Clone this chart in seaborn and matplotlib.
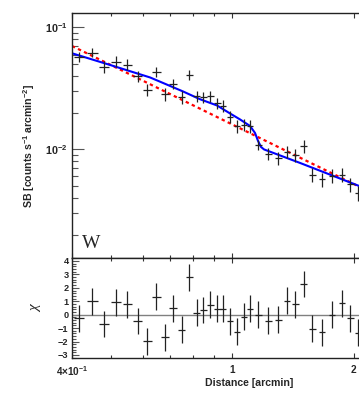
import numpy as np
import pandas as pd
import matplotlib
matplotlib.use('Agg')
import matplotlib.pyplot as plt
import seaborn as sns
from matplotlib.ticker import FixedLocator, FixedFormatter, MultipleLocator, NullFormatter

# Perfil de brillo superficial (sector W)
dist = [0.4165, 0.4494, 0.4813, 0.5146, 0.5489, 0.5834, 0.6152, 0.6477, 0.6820, 0.7139,
        0.7489, 0.7820, 0.8161, 0.8472, 0.8819, 0.9180, 0.9499, 0.9886, 1.029, 1.069,
        1.106, 1.161, 1.228, 1.300, 1.368, 1.434, 1.504, 1.579, 1.670, 1.769,
        1.872, 1.965, 2.051]
dist_err = [0.013, 0.014, 0.014, 0.015, 0.015, 0.015, 0.015, 0.016, 0.016, 0.016,
            0.016, 0.016, 0.016, 0.016, 0.017, 0.017, 0.017, 0.018, 0.018, 0.019,
            0.020, 0.022, 0.024, 0.025, 0.026, 0.027, 0.029, 0.030, 0.032, 0.034,
            0.035, 0.037, 0.039]
sb = [0.0576, 0.0621, 0.0477, 0.0526, 0.0497, 0.0400, 0.0309, 0.0434, 0.0285, 0.0346,
      0.0267, 0.0410, 0.0274, 0.0269, 0.0272, 0.0240, 0.0227, 0.0186, 0.0156, 0.0160,
      0.0156, 0.01089, 0.00924, 0.00847, 0.00959, 0.00901, 0.01058, 0.00618, 0.00568, 0.00607,
      0.00618, 0.00517, 0.00436]
sb_rel_err = [0.10, 0.085, 0.11, 0.10, 0.10, 0.10, 0.12, 0.10, 0.12, 0.10,
              0.12, 0.10, 0.10, 0.10, 0.10, 0.11, 0.11, 0.11, 0.12, 0.12,
              0.12, 0.10, 0.12, 0.12, 0.12, 0.12, 0.12, 0.13, 0.13, 0.13,
              0.13, 0.13, 0.14]
chi = [-0.28, 1.0, -0.7, 0.93, 0.78, -0.47, -1.97, 1.33, -1.7, 0.48,
       -1.13, 2.8, 0.13, 0.35, 0.73, 0.43, 0.43, -0.48, -1.28, -0.15,
       0.43, 0.0, -0.45, -0.38, 1.05, 0.78, 2.28, -1.05, -1.3, 0.0,
       0.85, -0.28, -1.35]

# Modelo con salto (azul) y modelo simple (rojo)
jump_x = [0.4, 0.4972, 0.6249, 0.7545, 0.8317, 0.9163, 0.9869, 1.045, 1.1063, 1.1385,
          1.1584, 1.1783, 1.1988, 1.4723, 2.063]
jump_y = [0.06144, 0.04928, 0.03893, 0.02988, 0.02579, 0.02294, 0.01973, 0.01762, 0.01558, 0.01365,
          0.01174, 0.01048, 0.0100, 0.00775, 0.00502]
plain_x = [0.4, 2.063]
plain_y = [0.0705, 0.00496]

sns.set_theme(style='ticks')
plt.rcParams['font.family'] = ['Liberation Sans', 'DejaVu Sans']
plt.rcParams['mathtext.fontset'] = 'custom'
plt.rcParams['mathtext.rm'] = 'Liberation Sans:bold'
plt.rcParams['mathtext.bf'] = 'Liberation Sans:bold'
plt.rcParams['mathtext.default'] = 'rm'

fig = plt.figure(figsize=(3.59, 3.97), dpi=100)
ax1 = fig.add_axes([0.2006, 0.3494, 0.7994, 0.6179])
ax2 = fig.add_axes([0.2006, 0.0975, 0.7994, 0.2519])

for ax in (ax1, ax2):
    ax.set_xscale('log')
    ax.set_xlim(0.4, 2.063)
    ax.spines['right'].set_visible(False)
    for s in ('left', 'top', 'bottom'):
        ax.spines[s].set_linewidth(1.0)
        ax.spines[s].set_color('#222222')
    ax.xaxis.set_major_locator(FixedLocator([0.4, 1, 2]))
    ax.xaxis.set_minor_locator(FixedLocator([0.5, 0.6, 0.7, 0.8, 0.9]))
    ax.xaxis.set_minor_formatter(NullFormatter())
    ax.tick_params(axis='x', which='both', direction='in', top=True, bottom=True, width=0.8, color='#333333')
    ax.tick_params(axis='x', which='major', length=3.6)
    ax.tick_params(axis='x', which='minor', length=2.2)
    ax.tick_params(axis='y', which='both', direction='in', left=True, right=False, width=0.8, color='#555555')

# panel superior
ax1.set_yscale('log')
ax1.set_ylim(0.00128, 0.1315)
sns.lineplot(x=plain_x, y=plain_y, ax=ax1, color='red', lw=1.6, linestyle=(0, (1.5, 1.5)), sort=False, estimator=None)
sns.lineplot(x=jump_x, y=jump_y, ax=ax1, color='blue', lw=1.5, sort=False, estimator=None)
sb_arr = np.array(sb)
ax1.errorbar(dist, sb, xerr=dist_err, yerr=sb_arr * np.array(sb_rel_err), fmt='none',
             ecolor='#222222', elinewidth=0.9)
ax1.yaxis.set_major_locator(FixedLocator([0.01, 0.1]))
ax1.yaxis.set_major_formatter(FixedFormatter(['10$^{-2}$', '10$^{-1}$']))
ax1.yaxis.set_minor_locator(FixedLocator([0.002, 0.003, 0.004, 0.005, 0.006, 0.007, 0.008, 0.009,
                                          0.02, 0.03, 0.04, 0.05, 0.06, 0.07, 0.08, 0.09]))
ax1.yaxis.set_minor_formatter(NullFormatter())
ax1.tick_params(axis='y', which='major', length=8.6, labelsize=7.8, pad=3.4)
ax1.tick_params(axis='y', which='minor', length=4.3)
ax1.tick_params(axis='x', labelbottom=False)
for t in ax1.get_yticklabels():
    t.set_fontweight('bold')
ax1.set_ylabel('SB [counts s$^{-1}$ arcmin$^{-2}$]', fontsize=7.6, fontweight='bold')
ax1.yaxis.set_label_coords(-0.122, 0.458)
ax1.set_xlabel('')
fig.text(82 / 359, 1 - 248 / 397, 'W', family='Liberation Serif', fontsize=14, va='baseline')

# panel de residuos
ax2.set_ylim(-3.25, 4.2)
ax2.axhline(0, color='gray', lw=1.0)
ax2.errorbar(dist, chi, xerr=dist_err, yerr=np.ones(len(chi)), fmt='none',
             ecolor='#222222', elinewidth=0.9)
ax2.yaxis.set_major_locator(MultipleLocator(1))
ax2.yaxis.set_minor_locator(MultipleLocator(0.2))
ax2.tick_params(axis='y', which='major', length=5, labelsize=6.6, pad=2.5)
ax2.tick_params(axis='y', which='minor', length=2.9)
ax2.xaxis.set_major_formatter(FixedFormatter(['4×10$^{-1}$', '1', '2']))
ax2.tick_params(axis='x', which='major', labelsize=7.2, pad=4.5)
for t in ax2.get_yticklabels() + ax2.get_xticklabels():
    t.set_fontweight('bold')
ax2.set_ylabel('χ', family='Liberation Serif', fontstyle='italic', fontsize=11)
ax2.yaxis.set_label_coords(-0.104, 0.5)
ax2.set_xlabel('Distance [arcmin]', fontsize=7.6, fontweight='bold')
ax2.xaxis.set_label_coords(0.617, -0.20)

fig.savefig('out.png', dpi=100)
